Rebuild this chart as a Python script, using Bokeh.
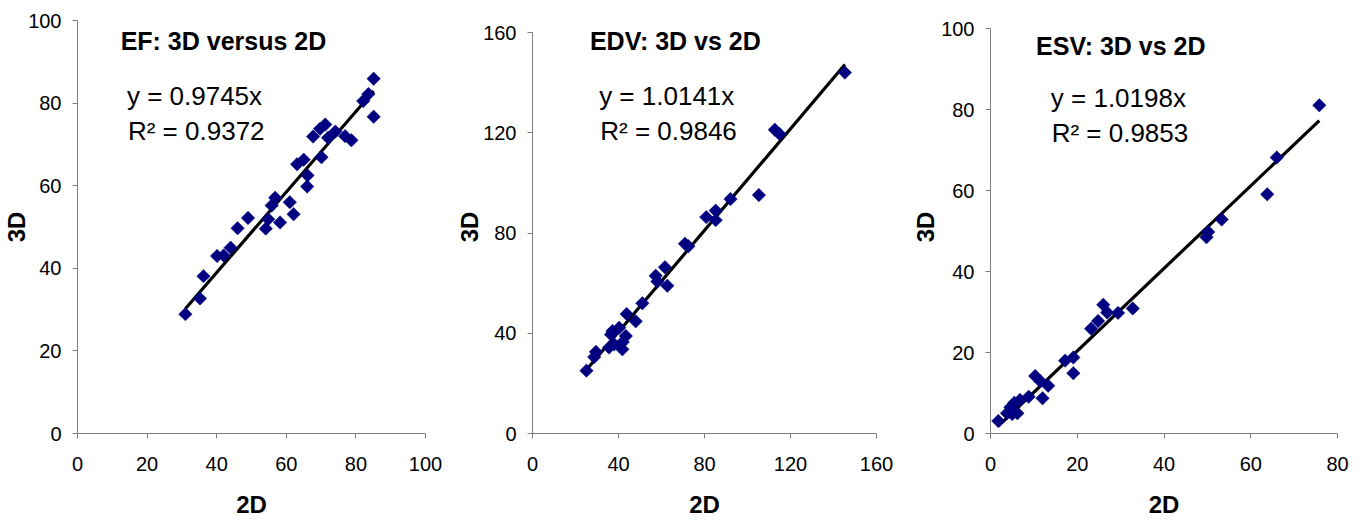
import math
from bokeh.plotting import figure
from bokeh.layouts import row
from bokeh.models import Range1d, Label, FixedTicker, ColumnDataSource
from bokeh.embed import file_html
from bokeh.resources import INLINE

# ---- data ----
ef_2d = [31, 35.2, 36.2, 40.1, 42, 44, 46, 49, 54.1, 54.8, 55.8, 56.8, 58.2, 61, 62.1, 63.1,
         65, 66.1, 66, 67.7, 69.7, 71.2, 70.1, 72, 74.1, 76.9, 78.7, 82.1, 83.6, 85.1, 85.1]
ef_3d = [28.9, 32.7, 38.1, 43, 43.1, 45, 49.7, 52.2, 49.6, 51.9, 55.2, 57.1, 51.1, 56, 53.1, 65.2,
         66.3, 62.5, 59.8, 71.9, 73.8, 74.8, 66.9, 71.6, 73.1, 72, 71, 80.5, 82.2, 85.9, 76.7]

edv_2d = [25.1, 28.7, 29.5, 35.6, 36.5, 38, 37.2, 40.3, 41.8, 43.4, 42, 43.8, 48, 51.1, 57.3,
          58.1, 61.6, 62.7, 70.9, 72.5, 80.8, 85.2, 85.2, 92.1, 105.3, 112.7, 114.9, 145.3]
edv_3d = [25.1, 30.5, 32.6, 34.3, 39.5, 35.6, 40.9, 42.2, 33.6, 38.9, 36.5, 47.7, 44.8, 52, 63,
          60.7, 66.4, 59, 75.8, 74.8, 86.4, 89, 85.2, 93.6, 95.2, 121.3, 119.6, 144.1]

esv_2d = [1.8, 3.8, 4.6, 5.0, 5.5, 6.2, 6.8, 8.8, 10.3, 11.5, 12.0, 13.3, 17.2, 19.1, 19.1, 23.2,
          24.8, 26.0, 26.9, 29.4, 32.8, 49.8, 50.2, 53.3, 63.8, 66.0, 75.8]
esv_3d = [3.1, 5.0, 6.5, 4.8, 7.6, 5.0, 8.3, 9.1, 14.2, 12.9, 8.7, 11.8, 18.0, 18.8, 14.9, 25.9,
          27.8, 31.8, 29.9, 29.8, 30.9, 48.5, 49.8, 52.9, 59.1, 68.2, 81.1]

titles = ["EF: 3D versus 2D", "EDV: 3D vs 2D", "ESV: 3D vs 2D"]
slopes = [0.9745, 1.0141, 1.0198]
r2s = ["0.9372", "0.9846", "0.9853"]
x_ticks = [[0, 20, 40, 60, 80, 100], [0, 40, 80, 120, 160], [0, 20, 40, 60, 80]]
y_ticks = [[0, 20, 40, 60, 80, 100], [0, 40, 80, 120, 160], [0, 20, 40, 60, 80, 100]]

FONT = "Liberation Sans"
AXIS_COLOR = "#808080"

# common vertical frame in figure pixels (figure top = 0)
FRAME_TOP, FRAME_BOTTOM = 20, 433
TEXT_SHIFT = 9  # label baselines are placed this many px above the target row


def to_data(px, top_px, ymax):
    # pixel row -> data value on a panel whose top tick sits at top_px
    return (FRAME_BOTTOM - (px - TEXT_SHIFT)) * ymax / (FRAME_BOTTOM - top_px)


def panel(xs, ys, slope, r2, title, xt, yt, fw, bl, br, top_px,
          title_pos, eq_pos, r_pos, ylab_standoff):
    y_max = yt[-1] * (FRAME_BOTTOM - FRAME_TOP) / (FRAME_BOTTOM - top_px)
    p = figure(frame_width=fw, frame_height=FRAME_BOTTOM - FRAME_TOP,
               output_backend="svg", toolbar_location=None,
               x_range=Range1d(xt[0], xt[-1]), y_range=Range1d(yt[0], y_max),
               min_border_left=bl, min_border_right=br,
               min_border_top=FRAME_TOP, min_border_bottom=80)
    p.outline_line_color = None
    p.xgrid.visible = False
    p.ygrid.visible = False
    p.background_fill_color = "white"
    p.border_fill_color = "white"
    for ax, ticks in ((p.xaxis[0], xt), (p.yaxis[0], yt)):
        ax.ticker = FixedTicker(ticks=ticks)
        ax.bounds = (ticks[0], ticks[-1])
        ax.axis_line_color = AXIS_COLOR
        ax.major_tick_line_color = AXIS_COLOR
        ax.major_tick_out = 5
        ax.major_tick_in = 0
        ax.minor_tick_line_color = None
        ax.minor_tick_out = 0
        ax.major_label_text_font = FONT
        ax.major_label_text_font_size = "20px"
        ax.major_label_text_color = "black"
        ax.axis_label_text_font = FONT
        ax.axis_label_text_font_size = "24px"
        ax.axis_label_text_font_style = "bold"
        ax.axis_label_text_color = "black"
    p.xaxis.axis_label = "2D"
    p.yaxis.axis_label = "3D"
    p.xaxis.major_label_standoff = 18
    p.yaxis.major_label_standoff = 11
    p.xaxis.axis_label_standoff = 17
    p.yaxis.axis_label_standoff = ylab_standoff

    src = ColumnDataSource(dict(x=xs, y=ys))
    lx = [min(xs), max(xs)]
    ly = [slope * v for v in lx]
    p.line(lx, ly, line_color="black", line_width=3.2)
    p.scatter("x", "y", source=src, marker="square", angle=math.pi / 4, size=9.5,
              fill_color="#000080", line_color="#000080", line_width=0.5)

    texts = [(title_pos, title, "25px", "bold"),
             (eq_pos, f"y = {slope:.4f}x", "26px", "normal"),
             (r_pos, f"R\u00b2 = {r2}", "26px", "normal")]
    for (tx, tpx), txt, fs, style in texts:
        p.add_layout(Label(x=tx, y=to_data(tpx, top_px, yt[-1]), text=txt, text_font=FONT,
                           text_font_size=fs, text_font_style=style, text_color="black",
                           text_baseline="alphabetic"))
    return p


# label positions: x in data units, baseline as pixel row
p1 = panel(ef_2d, ef_3d, slopes[0], r2s[0], titles[0], x_ticks[0], y_ticks[0],
           348, 71, 28, 20, (12.4, 49), (14.2, 104), (14.5, 139.3), -5)
p2 = panel(edv_2d, edv_3d, slopes[1], r2s[1], titles[1], x_ticks[1], y_ticks[1],
           344, 70, 33, 32.3, (26.7, 49.3), (31.0, 104), (31.5, 139.3), -3)
p3 = panel(esv_2d, esv_3d, slopes[2], r2s[2], titles[2], x_ticks[2], y_ticks[2],
           347, 70, 18, 28.3, (10.5, 54.3), (13.9, 106), (14.1, 141.7), -1)

layout = row(p1, p2, p3, spacing=0)
open("out.html", "w").write(file_html(layout, INLINE))
